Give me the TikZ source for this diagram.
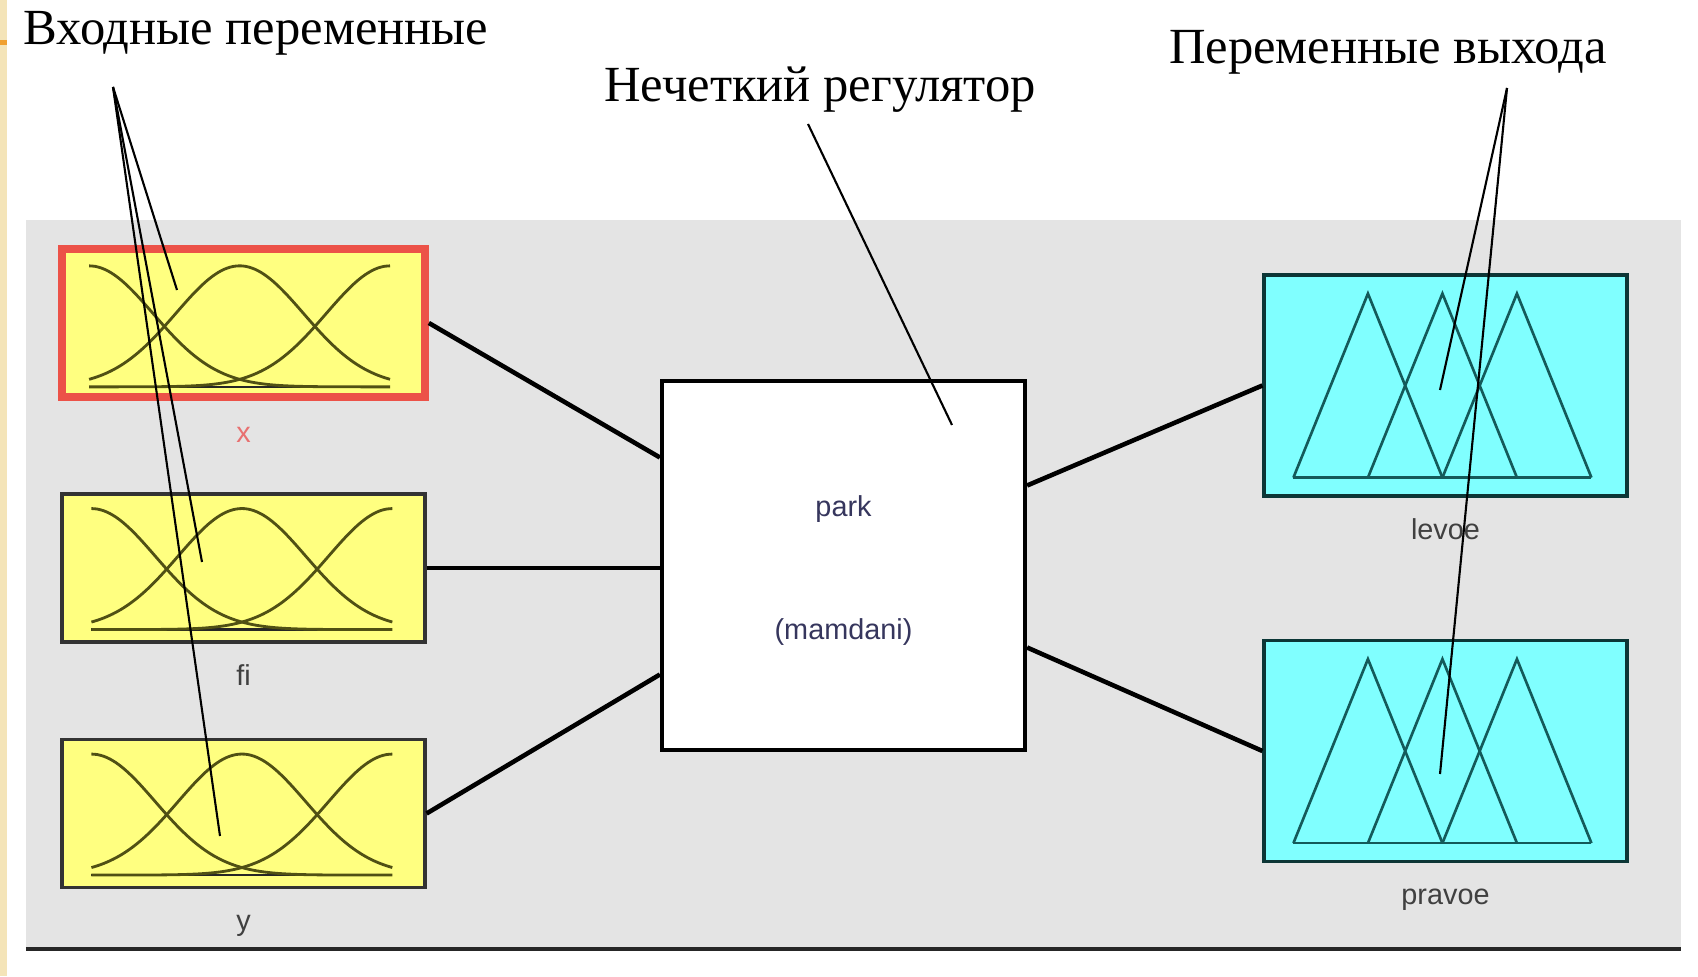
\documentclass[tikz,border=0pt]{standalone}
\usepackage{fontspec}
\setmainfont{Liberation Serif}
\setsansfont{Liberation Sans}
\usetikzlibrary{positioning,calc}

\definecolor{panelgray}{RGB}{228,228,228}
\definecolor{mfyellow}{RGB}{255,255,128}
\definecolor{mfcyan}{RGB}{128,255,255}
\definecolor{selred}{RGB}{236,82,72}
\definecolor{curveolive}{RGB}{80,80,20}
\definecolor{tealline}{RGB}{20,90,90}
\definecolor{slidebeige}{RGB}{244,228,184}
\definecolor{slideorange}{RGB}{240,160,48}
\definecolor{lblgray}{RGB}{64,64,64}
\definecolor{lblred}{RGB}{232,112,112}

\tikzset{
  inbox/.style={draw=black!80, line width=0.9pt, fill=mfyellow, minimum width=3.63cm, minimum height=1.48cm, inner sep=0pt},
  outbox/.style={draw=tealline!60!black, line width=0.9pt, fill=mfcyan, minimum width=3.63cm, minimum height=2.21cm, inner sep=0pt},
  ctrlbox/.style={draw=black, line width=1.2pt, fill=white, minimum width=3.63cm, minimum height=3.69cm, inner sep=0pt},
  varlabel/.style={font=\sffamily\fontsize{8.2}{10}\selectfont, text=lblgray, inner sep=0pt, text height=1.6ex, text depth=0.4ex},
  heading/.style={font=\fontsize{14.4}{17}\selectfont, anchor=base, inner sep=0pt},
  wire/.style={line width=1.3pt},
  pointer/.style={line width=0.6pt},
  mfcurve/.style={curveolive, line width=0.8pt},
  mftri/.style={tealline, line width=0.75pt}
}

\begin{document}
\begin{tikzpicture}
    \useasboundingbox (0,0) rectangle (16.98,9.76);
    \fill[white] (0,0) rectangle (16.98,9.76);
    % Slide edge
    \fill[slidebeige] (0,0) rectangle (0.065,9.76);
    \fill[slideorange] (0,9.31) rectangle (0.07,9.36);

    % Editor panel
    \fill[panelgray] (0.26,0.27) rectangle (16.81,7.56);
    \draw[line width=1.2pt, black!85] (0.26,0.27) -- (16.81,0.27);

    % Inputs
    \node[inbox, draw=selred, line width=2.2pt] (inx) at (2.435,6.53) {};
    \node[inbox] (infi) at (2.435,4.08) {};
    \node[inbox] (iny) at (2.435,1.625) {};
    \node[varlabel, text=lblred, below=0.15cm of inx] (inxlbl) {x};
    \node[varlabel, below=0.15cm of infi] (infilbl) {fi};
    \node[varlabel, below=0.15cm of iny] (inylbl) {y};
    \foreach \v in {inx,infi,iny} {
        \begin{scope}[shift={($(\v.south west)+(0.31,0.14)$)}, x=3.01cm, y=1.21cm]
            \draw[black!85, line width=0.7pt] (0,0) -- (1,0);
            \foreach \c in {0,0.5,1}
                \draw[mfcurve] plot[domain=0:1, samples=50, smooth] (\x, {exp(-(\x-\c)^2/0.09)});
        \end{scope}
    }

    % Controller
    \node[ctrlbox] (ctrl) at (8.435,4.105) {};
    \node[varlabel, text=lblgray!85!blue] (ctrlname) at ([yshift=0.585cm]ctrl.center) {park};
    \node[varlabel, text=lblgray!85!blue] (ctrltype) at ([yshift=-0.645cm]ctrl.center) {(mamdani)};

    % Outputs
    \node[outbox] (outl) at (14.455,5.905) {};
    \node[outbox] (outr) at (14.455,2.25) {};
    \node[varlabel, below=0.15cm of outl] (outllbl) {levoe};
    \node[varlabel, below=0.15cm of outr] (outrlbl) {pravoe};
    \foreach \v in {outl,outr} {
        \begin{scope}[shift={($(\v.south west)+(0.31,0.2)$)}, x=2.98cm, y=1.84cm]
            \draw[mftri] (0,0) -- (1,0);
            \foreach \c in {0.25,0.5,0.75}
                \draw[mftri] (\c-0.25,0) -- (\c,1) -- (\c+0.25,0);
        \end{scope}
    }

    % Wires
    \draw[wire] (inx.east) -- ([yshift=1.08cm]ctrl.west);
    \draw[wire] (infi.east) -- (infi.east -| ctrl.west);
    \draw[wire] (iny.east) -- ([yshift=-1.09cm]ctrl.west);
    \draw[wire] ([yshift=0.8cm]ctrl.east) -- (outl.west);
    \draw[wire] ([yshift=-0.82cm]ctrl.east) -- (outr.west);

    % Headings with pointers
    \node[heading] (intitle) at (2.56,9.31) {Входные переменные};
    \node[heading] (ctrltitle) at (8.20,8.74) {Нечеткий регулятор};
    \node[heading] (outtitle) at (13.88,9.12) {Переменные выхода};

    \coordinate (inptr) at (1.13,8.89);
    \coordinate (inxend) at (1.77,6.86);
    \coordinate (infiend) at (2.02,4.14);
    \coordinate (inyend) at (2.20,1.40);
    \foreach \e in {inxend,infiend,inyend}
        \draw[pointer] (inptr) -- (\e);

    \coordinate (ctrlptr) at (8.08,8.52);
    \coordinate (ctrlend) at (9.52,5.51);
    \draw[pointer] (ctrlptr) -- (ctrlend);

    \coordinate (outptr) at (15.07,8.88);
    \coordinate (outlend) at (14.40,5.86);
    \coordinate (outrend) at (14.40,2.02);
    \foreach \e in {outlend,outrend}
        \draw[pointer] (outptr) -- (\e);
\end{tikzpicture}
\end{document}
